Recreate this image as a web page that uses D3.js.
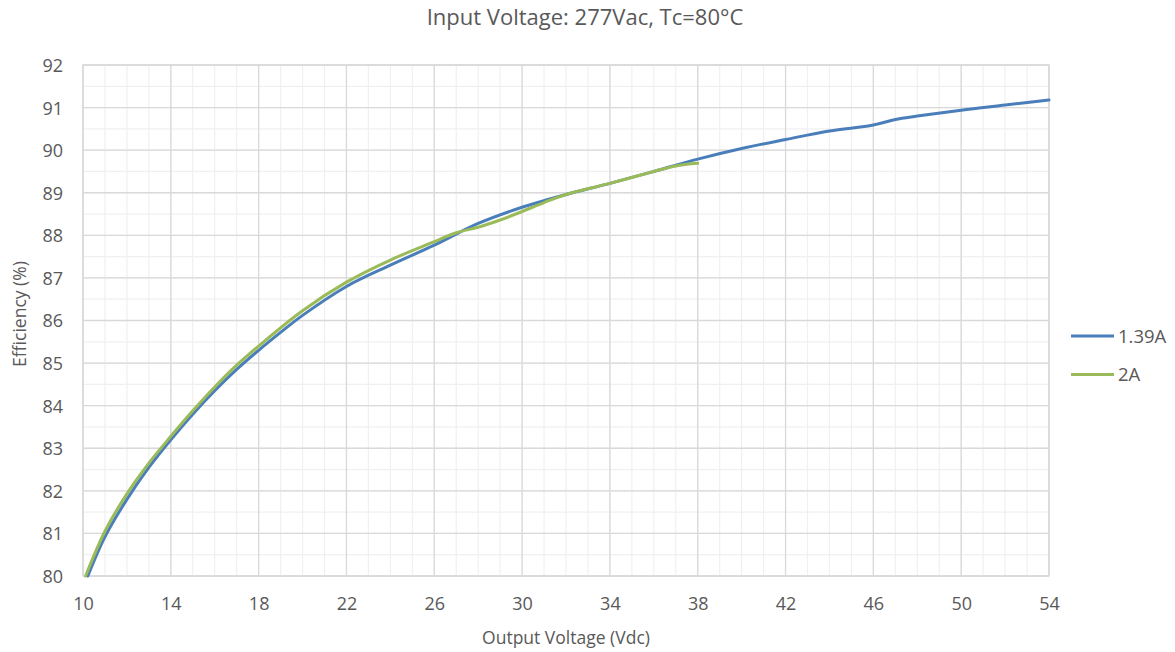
<!DOCTYPE html>
<html lang="en">
<head>
<meta charset="utf-8">
<script src="https://d3js.org/d3.v7.min.js"></script>
<title>Efficiency vs Output Voltage</title>
<style>
  body { margin: 0; background: #fff; }
  text { font-family: "Open Sans", sans-serif; fill: #595959; }
</style>
</head>
<body>
<script>
// series
const voltsA = [10.22, 11, 12, 13, 14, 15, 16, 17, 18, 19, 20, 22, 24, 26, 28, 30, 32, 34, 36, 38, 40, 42, 44, 46, 47, 48, 50, 52, 54];
const effA   = [80.0, 80.92, 81.8, 82.55, 83.2, 83.8, 84.35, 84.85, 85.3, 85.72, 86.12, 86.8, 87.3, 87.77, 88.28, 88.66, 88.96, 89.22, 89.5, 89.79, 90.04, 90.25, 90.45, 90.59, 90.72, 90.8, 90.94, 91.06, 91.18];
const voltsB = [10.12, 11, 12, 13, 14, 15, 16, 17, 18, 20, 22, 24, 26, 27, 28, 29, 30, 31, 32, 34, 36, 37, 38];
const effB   = [80.0, 81.05, 81.93, 82.65, 83.28, 83.88, 84.44, 84.95, 85.4, 86.23, 86.9, 87.42, 87.85, 88.06, 88.19, 88.36, 88.56, 88.77, 88.96, 89.22, 89.5, 89.63, 89.69];
const seriesNames = ["1.39A", "2A"];
const xTicks = [10, 14, 18, 22, 26, 30, 34, 38, 42, 46, 50, 54];
const yTicks = [80, 81, 82, 83, 84, 85, 86, 87, 88, 89, 90, 91, 92];

const W = 1175, H = 652;
const margin = {top: 65, right: 126, bottom: 76, left: 83};
const width = W - margin.left - margin.right;
const height = H - margin.top - margin.bottom;
const colors = ["#4a7ebb", "#9bbb59"];

const svg = d3.select("body").append("svg")
    .attr("width", W)
    .attr("height", H);

const g = svg.append("g")
    .attr("transform", "translate(" + margin.left + "," + margin.top + ")");

const x = d3.scaleLinear().domain([10, 54]).range([0, width]);
const y = d3.scaleLinear().domain([80, 92]).range([height, 0]);

// minor grid
g.append("g")
  .selectAll("line")
  .data(d3.range(10, 54.01, 1))
  .join("line")
    .attr("x1", d => x(d)).attr("x2", d => x(d))
    .attr("y1", 0).attr("y2", height)
    .attr("stroke", "#f0f0f0").attr("stroke-width", 1.2);
g.append("g")
  .selectAll("line")
  .data(d3.range(80, 92.01, 0.5))
  .join("line")
    .attr("x1", 0).attr("x2", width)
    .attr("y1", d => y(d)).attr("y2", d => y(d))
    .attr("stroke", "#f0f0f0").attr("stroke-width", 1.2);

// major grid
g.append("g")
  .selectAll("line")
  .data(xTicks)
  .join("line")
    .attr("x1", d => x(d)).attr("x2", d => x(d))
    .attr("y1", 0).attr("y2", height)
    .attr("stroke", "#d9d9d9").attr("stroke-width", 1.3);
g.append("g")
  .selectAll("line")
  .data(yTicks)
  .join("line")
    .attr("x1", 0).attr("x2", width)
    .attr("y1", d => y(d)).attr("y2", d => y(d))
    .attr("stroke", "#d9d9d9").attr("stroke-width", 1.3);

// frame
g.append("rect")
  .attr("width", width).attr("height", height)
  .attr("fill", "none").attr("stroke", "#d9d9d9").attr("stroke-width", 1.3);

// axes (labels only)
const xAxis = g.append("g")
  .attr("transform", "translate(0," + height + ")")
  .call(d3.axisBottom(x).tickValues(xTicks).tickSize(0).tickPadding(21));
const yAxis = g.append("g")
  .call(d3.axisLeft(y).tickValues(yTicks).tickSize(0).tickPadding(20));
[xAxis, yAxis].forEach(a => {
  a.select(".domain").remove();
  a.selectAll("text").style("font-size", "18px").style("font-family", "'Open Sans', sans-serif").attr("fill", "#595959");
});
yAxis.selectAll("text").attr("dy", "0.36em");

// lines
const line = d3.line()
  .x(d => x(d[0]))
  .y(d => y(d[1]))
  .curve(d3.curveCatmullRom.alpha(0.5));

const series = [
  d3.zip(voltsA, effA),
  d3.zip(voltsB, effB)
];

g.selectAll("path.series")
  .data(series)
  .join("path")
    .attr("class", "series")
    .attr("d", line)
    .attr("fill", "none")
    .attr("stroke", (d, i) => colors[i])
    .attr("stroke-width", 3)
    .attr("stroke-linecap", "round");

// titles
svg.append("text")
  .attr("x", 585).attr("y", 25)
  .attr("text-anchor", "middle")
  .style("font-size", "22px")
  .text("Input Voltage: 277Vac, Tc=80°C");

svg.append("text")
  .attr("x", 566).attr("y", 644)
  .attr("text-anchor", "middle")
  .style("font-size", "17.5px")
  .text("Output Voltage (Vdc)");

svg.append("text")
  .attr("transform", "translate(26,314) rotate(-90)")
  .attr("text-anchor", "middle")
  .style("font-size", "17.5px")
  .text("Efficiency (%)");

// legend
const legend = svg.append("g").attr("transform", "translate(1071,336)");
seriesNames.forEach((name, i) => {
  const row = legend.append("g").attr("transform", "translate(0," + i * 38.5 + ")");
  row.append("line")
    .attr("x1", 0).attr("x2", 43)
    .attr("stroke", colors[i]).attr("stroke-width", 3);
  row.append("text")
    .attr("x", 47).attr("dy", "0.36em")
    .style("font-size", "18.5px")
    .text(name);
});
</script>
</body>
</html>
